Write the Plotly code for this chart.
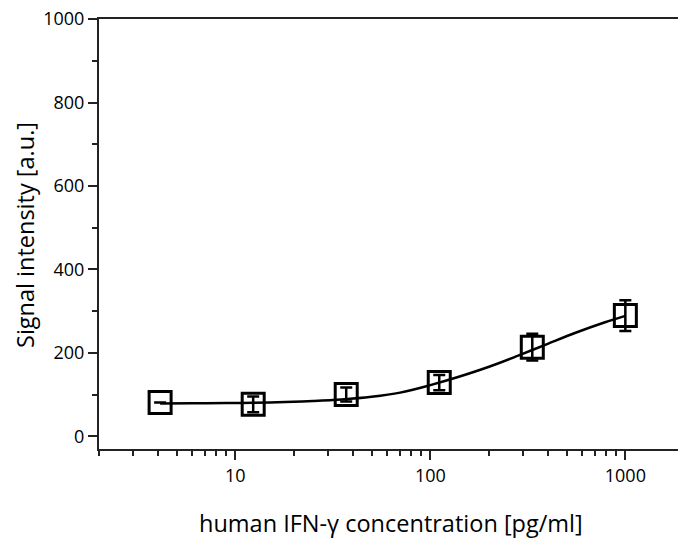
import plotly.graph_objects as go

# IFN-gamma standard series (pg/ml) and measured signal
concentration = [4.115, 12.35, 37.04, 111.1, 333.3, 1000]
signal = [81.5, 77, 100.6, 129, 214, 289.5]
signal_err = [None, 19, 17, 18, 32, 37]

# fitted dose-response curve
fit_conc = [4.115, 6, 9, 12.35, 18, 25, 35, 50, 70, 100, 140, 200, 280, 400, 560, 780, 1000]
fit_signal = [79, 79.3, 80, 80.8, 82.4, 84.8, 88.5, 95, 105, 123, 143, 167, 193, 222, 249, 273, 289]

x_tickvals = [10, 100, 1000]
x_ticktext = ["10", "100", "1000"]
x_minor = [m * d for d in (1, 10, 100) for m in range(2, 10)]

FONT = "Open Sans"
AXIS_COLOR = "#222222"

fig = go.Figure()

fig.add_trace(go.Scatter(
    x=concentration, y=signal, mode="markers",
    marker=dict(symbol="square-open", size=22, color="black",
                line=dict(width=3, color="black")),
    error_y=dict(type="data", array=signal_err, visible=True,
                 color="black", thickness=2.5, width=6),
    showlegend=False,
))

fig.add_trace(go.Scatter(
    x=fit_conc, y=fit_signal, mode="lines", line_shape="spline",
    line=dict(color="black", width=2.5),
    showlegend=False,
))

fig.update_layout(
    width=678, height=540,
    margin=dict(l=99, r=0, t=19, b=91),
    paper_bgcolor="white", plot_bgcolor="white",
    font=dict(family=FONT, color="black", size=18),
    xaxis=dict(
        type="log", range=[0.301, 3.27],
        showline=True, linecolor=AXIS_COLOR, linewidth=2, mirror=True,
        showgrid=False, zeroline=False,
        ticks="outside", ticklen=9, tickwidth=1.5, tickcolor=AXIS_COLOR,
        tickmode="array", tickvals=x_tickvals, ticktext=x_ticktext,
        tickfont=dict(size=18),
        minor=dict(tickmode="array", tickvals=x_minor, ticks="outside",
                   ticklen=5, tickwidth=1.5, tickcolor=AXIS_COLOR, showgrid=False),
    ),
    yaxis=dict(
        range=[-30, 1000],
        showline=True, linecolor=AXIS_COLOR, linewidth=2, mirror=False,
        showgrid=False, zeroline=False,
        ticks="outside", ticklen=9, tickwidth=1.5, tickcolor=AXIS_COLOR,
        tick0=0, dtick=200, tickfont=dict(size=18),
        minor=dict(tick0=0, dtick=100, ticks="outside", ticklen=5,
                   tickwidth=1.5, tickcolor=AXIS_COLOR, showgrid=False),
    ),
    annotations=[
        dict(text="human IFN-γ concentration [pg/ml]", xref="paper", yref="paper",
             x=(391 - 99) / 579, y=(449 - 523) / 430, xanchor="center", yanchor="middle",
             showarrow=False, font=dict(size=23.5, family=FONT, color="black")),
        dict(text="Signal intensity [a.u.]", xref="paper", yref="paper",
             x=(25 - 99) / 579, y=(449 - 235) / 430, xanchor="center", yanchor="middle",
             textangle=-90, showarrow=False, font=dict(size=23.5, family=FONT, color="black")),
    ],
)

fig.write_html("out.html")
